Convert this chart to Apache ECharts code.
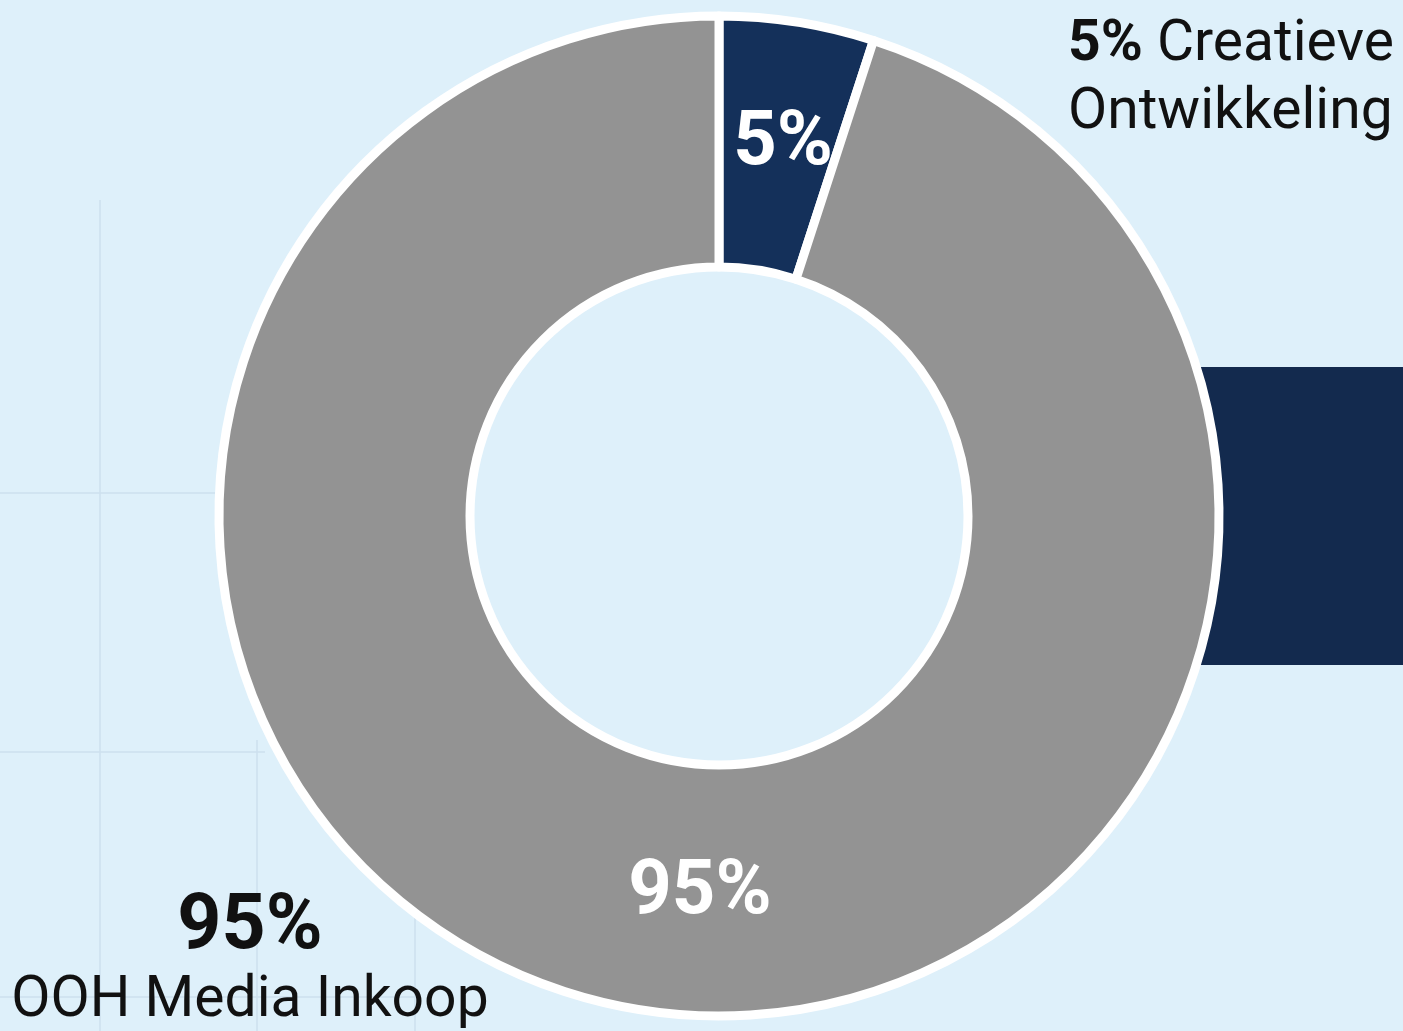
<!DOCTYPE html>
<html>
<head>
<meta charset="utf-8">
<script src="https://cdn.jsdelivr.net/npm/echarts@6/dist/echarts.min.js"></script>
<style>
    html, body { margin: 0; padding: 0; background: #def0fa; }
    #chart { width: 1403px; height: 1031px; }
</style>
</head>
<body>
<div id="chart"></div>
<script>
// data
var categories = ['Creatieve Ontwikkeling', 'OOH Media Inkoop'];
var shares = [5, 95];
var sliceColors = ['#14305a', '#939393'];

var myChart = echarts.init(document.getElementById('chart'));

var pieData = categories.map(function (name, i) {
    return { name: name, value: shares[i], itemStyle: { color: sliceColors[i] } };
});

var font = 'Roboto, "Noto Sans", sans-serif';
var gridColor = '#cde1ee';

// faint background grid
var gridLines = [
    { x1: 100, y1: 200, x2: 100, y2: 1031 },
    { x1: 257, y1: 740, x2: 257, y2: 1031 },
    { x1: 415, y1: 880, x2: 415, y2: 1031 },
    { x1: 0, y1: 493, x2: 215, y2: 493 },
    { x1: 0, y1: 752, x2: 265, y2: 752 },
    { x1: 0, y1: 997, x2: 420, y2: 997 }
].map(function (s) {
    return { type: 'line', shape: s, style: { stroke: gridColor, lineWidth: 1.5 }, z: -10 };
});

var topWords = categories[0].split(' ');

option = {
    backgroundColor: '#def0fa',
    animation: false,
    graphic: gridLines.concat([
        {
            type: 'rect',
            shape: { x: 1150, y: 367, width: 260, height: 298 },
            style: { fill: '#132a4e' },
            z: -5
        },
        {
            type: 'text', x: 1068, y: 46,
            style: {
                text: '{b|' + shares[0] + '%}{n| ' + topWords[0] + '}',
                align: 'left', verticalAlign: 'middle',
                rich: {
                    b: { fontFamily: font, fontSize: 57, fontWeight: 'bold', fill: '#111' },
                    n: { fontFamily: font, fontSize: 57, fill: '#111' }
                }
            }
        },
        {
            type: 'text', x: 1068, y: 114,
            style: {
                text: topWords.slice(1).join(' '),
                align: 'left', verticalAlign: 'middle',
                fontFamily: font, fontSize: 57, fill: '#111'
            }
        },
        {
            type: 'text', x: 250, y: 929,
            style: {
                text: shares[1] + '%',
                align: 'center', verticalAlign: 'middle',
                fontFamily: font, fontSize: 77, fontWeight: 'bold', fill: '#111'
            }
        },
        {
            type: 'text', x: 250, y: 1002,
            style: {
                text: categories[1],
                align: 'center', verticalAlign: 'middle',
                fontFamily: font, fontSize: 57, fill: '#111'
            }
        }
    ]),
    series: [
        {
            type: 'pie',
            center: [719, 516],
            radius: [249, 500],
            startAngle: 90,
            clockwise: true,
            silent: true,
            itemStyle: { borderColor: '#ffffff', borderWidth: 9 },
            label: {
                show: true,
                position: 'inside',
                formatter: '{c}%',
                color: '#ffffff',
                fontFamily: font,
                fontSize: 76,
                fontWeight: 'bold'
            },
            labelLine: { show: false },
            labelLayout: function (params) {
                if (params.dataIndex === 1) {
                    return { dx: 40, dy: 5 };
                }
                return { dx: 5, dy: 2 };
            },
            data: pieData
        }
    ]
};

myChart.setOption(option);
</script>
</body>
</html>
